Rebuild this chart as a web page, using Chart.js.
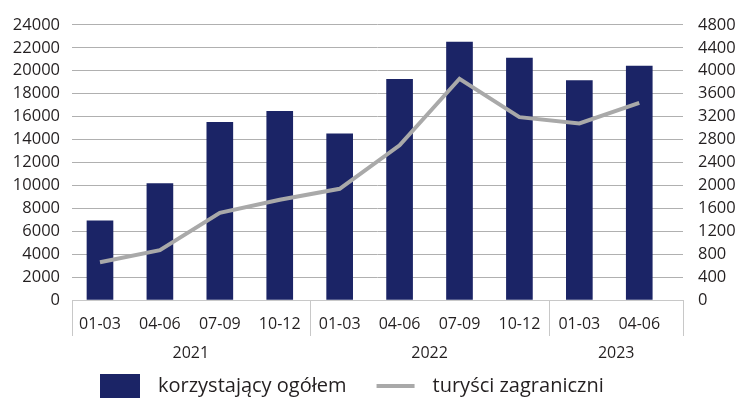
<!DOCTYPE html>
<html>
<head>
<meta charset="utf-8">
<script src="https://cdn.jsdelivr.net/npm/chart.js@4"></script>
<style>
  html, body { margin: 0; padding: 0; background: #fff; }
  #wrap { width: 741px; height: 400px; position: relative; }
</style>
</head>
<body>
<div id="wrap"><canvas id="chart" width="741" height="400"></canvas></div>
<script>
const quarters = ["01-03", "04-06", "07-09", "10-12", "01-03", "04-06", "07-09", "10-12", "01-03", "04-06"];
const years = ["2021", "2022", "2023"];
const yearCounts = [4, 4, 2];
const ogolem = [6900, 10150, 15500, 16450, 14500, 19250, 22500, 21100, 19150, 20400];
const zagraniczni = [660, 870, 1520, 1750, 1940, 2700, 3860, 3190, 3080, 3440];
const seriesNames = ["korzystający ogółem", "turyści zagraniczni"];

const NAVY = "#1b2466";
const GREY = "#a9a9a9";
const TEXT = "#231f20";
const FONT = '"Open Sans", "Noto Sans", sans-serif';

const xGroups = {
  id: "xGroups",
  afterDraw(chart) {
    const { ctx, chartArea, scales } = chart;
    const x = scales.x;
    ctx.save();
    ctx.fillStyle = TEXT;
    ctx.font = "16px " + FONT;
    ctx.textAlign = "center";
    ctx.textBaseline = "middle";
    quarters.forEach((q, i) => ctx.fillText(q, x.getPixelForValue(i), 324));

    const edges = [chartArea.left];
    let acc = 0;
    yearCounts.forEach((n, g) => {
      acc += n;
      edges.push(g === yearCounts.length - 1 ? chartArea.right : x.getPixelForValue(acc - 0.5));
    });
    ctx.strokeStyle = "#c8c8c8";
    ctx.lineWidth = 1;
    edges.forEach((e) => {
      const px = Math.round(e) + 0.5;
      ctx.beginPath();
      ctx.moveTo(px, chartArea.bottom);
      ctx.lineTo(px, 336);
      ctx.stroke();
    });
    years.forEach((yr, g) => ctx.fillText(yr, (edges[g] + edges[g + 1]) / 2, 353));

    // legend
    ctx.font = "20px " + FONT;
    ctx.textAlign = "left";
    const ly = 386;
    ctx.fillStyle = NAVY;
    ctx.fillRect(100, 374, 40, 24);
    ctx.fillStyle = TEXT;
    ctx.fillText(seriesNames[0], 158, ly);
    const lx = 158 + ctx.measureText(seriesNames[0]).width + 30;
    ctx.strokeStyle = GREY;
    ctx.lineWidth = 4;
    ctx.beginPath();
    ctx.moveTo(lx, ly);
    ctx.lineTo(lx + 38, ly);
    ctx.stroke();
    ctx.fillText(seriesNames[1], lx + 56, ly);
    ctx.restore();
  },
};

const plain = (v) => String(v);

new Chart(document.getElementById("chart"), {
  type: "bar",
  data: {
    datasets: [
      {
        type: "line",
        label: seriesNames[1],
        data: zagraniczni.map((v, i) => ({ x: i, y: v })),
        borderColor: GREY,
        backgroundColor: GREY,
        borderWidth: 4,
        pointRadius: 0,
        tension: 0,
        yAxisID: "y1",
        order: 0,
      },
      {
        label: seriesNames[0],
        data: ogolem.map((v, i) => ({ x: i, y: v })),
        backgroundColor: NAVY,
        barThickness: 26,
        yAxisID: "y",
        order: 1,
      },
    ],
  },
  options: {
    responsive: false,
    animation: false,
    layout: { padding: { top: 18, bottom: 0, left: 0, right: 0 } },
    plugins: { legend: { display: false }, tooltip: { enabled: false } },
    scales: {
      x: {
        type: "linear",
        min: -0.467,
        max: 9.73,
        offset: false,
        grid: { display: false },
        border: { display: true, color: "#c8c8c8" },
        ticks: { display: false },
        afterFit: (a) => { a.height = 100; },
      },
      y: {
        position: "left",
        min: 0,
        max: 24000,
        ticks: { stepSize: 2000, autoSkip: false, padding: 12, color: TEXT, font: { family: FONT, size: 16.5 }, callback: plain },
        grid: { color: "#b0b0b0", drawTicks: false },
        border: { display: false },
        afterFit: (a) => { a.width = 72; },
      },
      y1: {
        position: "right",
        min: 0,
        max: 4800,
        ticks: { stepSize: 400, autoSkip: false, padding: 15, color: TEXT, font: { family: FONT, size: 16.5 }, callback: plain },
        grid: { display: false, drawTicks: false },
        border: { display: false },
        afterFit: (a) => { a.width = 58; },
      },
    },
  },
  plugins: [xGroups],
});
</script>
</body>
</html>
